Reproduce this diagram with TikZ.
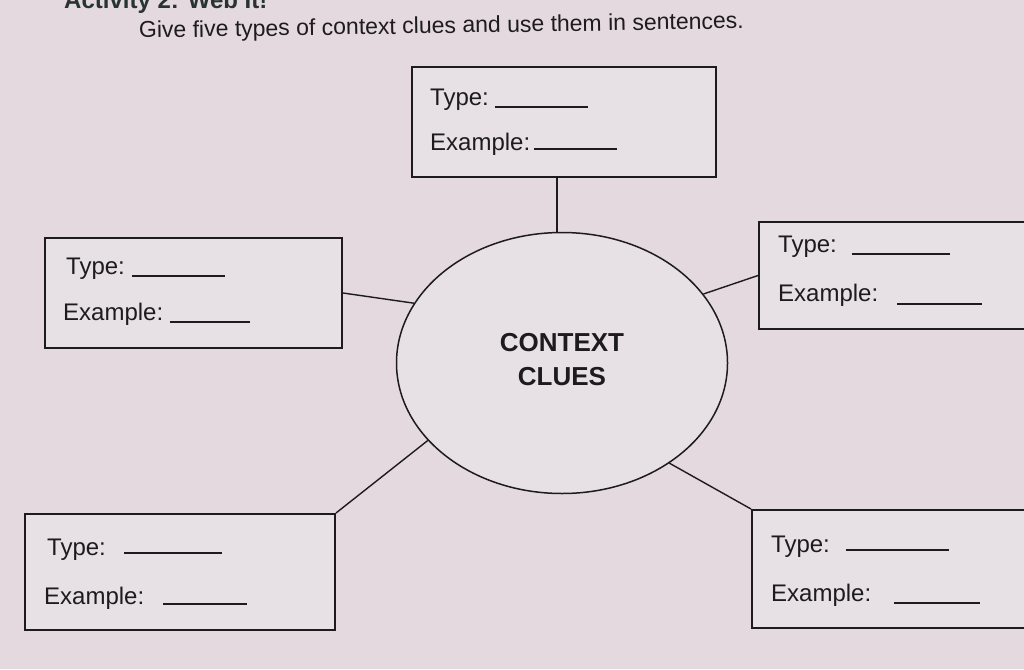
\documentclass[tikz,border=0pt]{standalone}
\usepackage{fontspec}
\setmainfont{Liberation Sans}
\usetikzlibrary{shapes.geometric}
\definecolor{paper}{RGB}{227,217,223}
\definecolor{ink}{RGB}{30,27,30}
\definecolor{boxfill}{RGB}{231,225,229}
\tikzset{
  wbox/.style={draw=ink, line width=2pt, fill=boxfill, inner sep=0pt},
  lbl/.style={anchor=base west, inner sep=0pt, text=ink, font=\fontsize{24}{28}\selectfont},
  blank/.style={draw=ink, line width=1.6pt},
  conn/.style={draw=ink, line width=1.4pt},
}
\begin{document}
\begin{tikzpicture}[x=1pt,y=-1pt]
\fill[paper] (0,0) rectangle (1024,669);
\useasboundingbox (0,0) rectangle (1024,669);

% header (cut off at top, as in the reference) and title
\node[lbl, font=\fontsize{24}{28}\selectfont\bfseries, text={rgb,255:red,40;green,52;blue,50}] (hdr) at (64,9) {Activity 2: Web It!};
\node[lbl, font=\fontsize{23}{27}\selectfont, rotate=0.9] (title) at (139,38) {Give five types of context clues and use them in sentences.};

% boxes
\node[wbox, minimum width=304, minimum height=110] (topbox) at (563.5,122) {};
\node[wbox, minimum width=297, minimum height=110] (leftbox) at (193.5,293) {};
\node[wbox, minimum width=285, minimum height=107] (rightbox) at (901.5,275.5) {};
\node[wbox, minimum width=310, minimum height=116] (blbox) at (180,572) {};
\node[wbox, minimum width=292, minimum height=118] (brbox) at (898,569) {};

% ellipse
\node[draw=ink, line width=1.5pt, fill=boxfill, ellipse, minimum width=331, minimum height=261, inner sep=0pt] (ell) at (562,363) {};
\node[text=ink, font=\fontsize{26}{34}\selectfont\bfseries, align=center, inner sep=0pt] (ctext) at (562,360) {CONTEXT\\CLUES};

% connectors
\draw[conn] (topbox.south -| 557,0) coordinate (tc) -- (ell.north -| tc);
\draw[conn] (leftbox.east) -- (ell.158);
\draw[conn] (rightbox.west) -- (ell.26);
\draw[conn] (blbox.north east) -- (ell.210);
\draw[conn] (brbox.north west) -- (ell.317);

% top box texts
\node[lbl] (t1) at (430,105) {Type:};
\draw[blank] (495,107) -- (588,107);
\node[lbl] (e1) at (430,150) {Example:};
\draw[blank] (534,149) -- (617,149);

% left box texts
\node[lbl] (t2) at (66,274) {Type:};
\draw[blank] (132,276) -- (225,276);
\node[lbl] (e2) at (63,320) {Example:};
\draw[blank] (170,322) -- (250,322);

% right box texts
\node[lbl] (t3) at (778,252) {Type:};
\draw[blank] (852,254) -- (950,254);
\node[lbl] (e3) at (778,301) {Example:};
\draw[blank] (897,304) -- (982,304);

% bottom-left box texts
\node[lbl] (t4) at (47,555) {Type:};
\draw[blank] (124,553) -- (222,553);
\node[lbl] (e4) at (44,604) {Example:};
\draw[blank] (163,604) -- (247,604);

% bottom-right box texts
\node[lbl] (t5) at (771,552) {Type:};
\draw[blank] (846,550) -- (949,550);
\node[lbl] (e5) at (771,601) {Example:};
\draw[blank] (894,603) -- (980,603);
\end{tikzpicture}
\end{document}
